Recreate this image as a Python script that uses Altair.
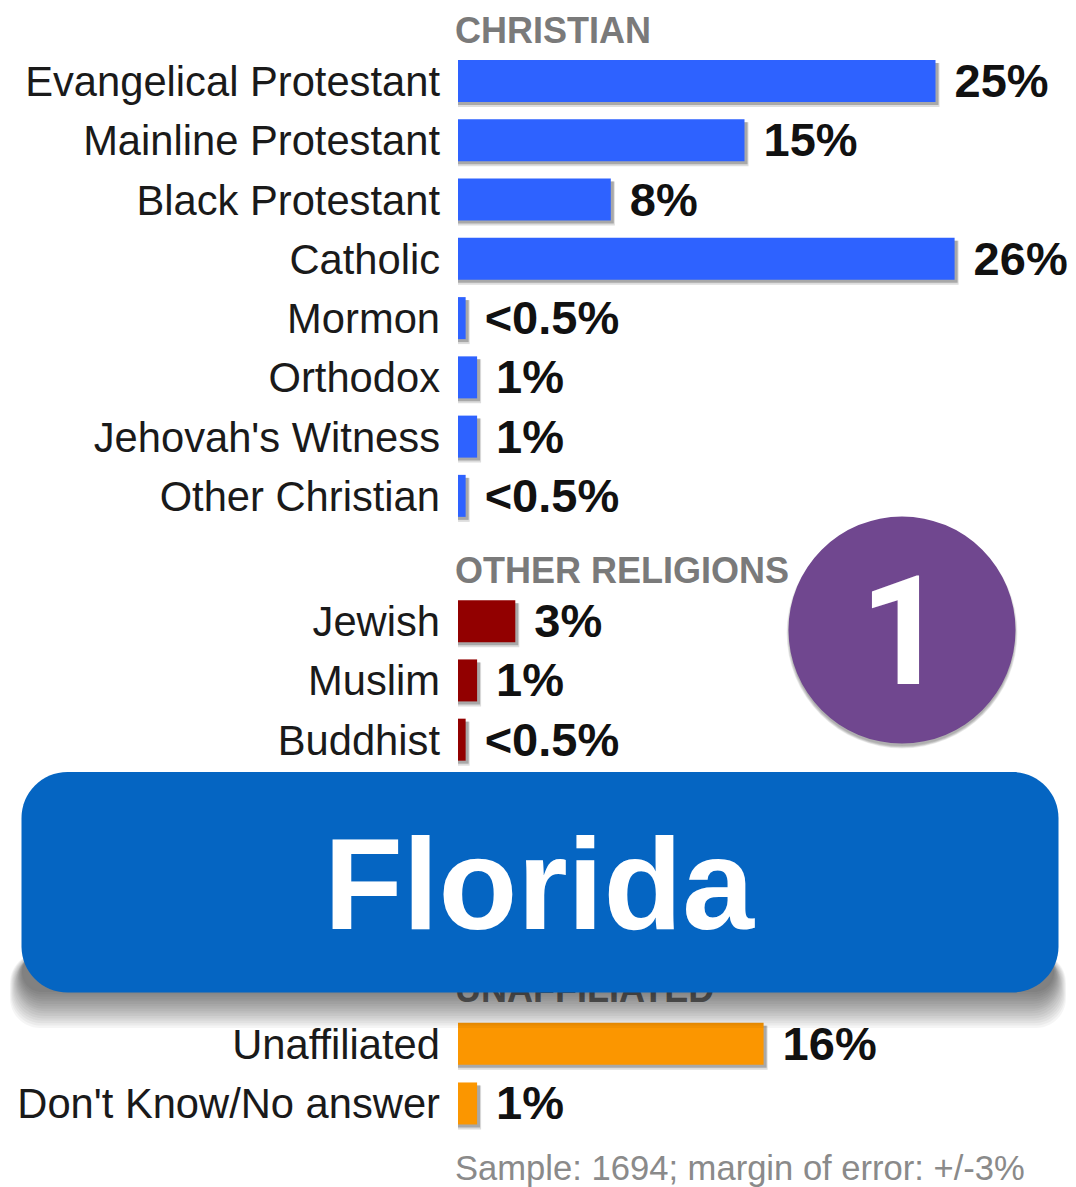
import altair as alt
import pandas as pd

categories = ["Evangelical Protestant", "Mainline Protestant", "Black Protestant", "Catholic",
              "Mormon", "Orthodox", "Jehovah's Witness", "Other Christian",
              "Jewish", "Muslim", "Buddhist",
              "Unaffiliated", "Don't Know/No answer"]
values = [25, 15, 8, 26, 0.4, 1, 1, 0.4, 3, 1, 0.4, 16, 1]
labels = ["25%", "15%", "8%", "26%", "<0.5%", "1%", "1%", "<0.5%", "3%", "1%", "<0.5%", "16%", "1%"]
groups = ["Christian"] * 8 + ["Other"] * 3 + ["None"] * 2
rows = [-0.015, 0.985, 1.985, 2.985, 3.985, 4.985, 5.985, 6.985, 9.1, 10.1, 11.1, 16.23, 17.24]

headers = ["CHRISTIAN", "OTHER RELIGIONS", "UNAFFILIATED"]
header_rows = [-0.875, 8.24, 15.31]
footnote = ["Sample: 1694; margin of error: +/-3%"]
footnote_rows = [18.31]

df = pd.DataFrame({"cat": categories, "val": values, "label": labels, "group": groups, "row": rows})
hdf = pd.DataFrame({"text": headers, "row": header_rows})
fdf = pd.DataFrame({"text": footnote, "row": footnote_rows})

W, H = 1060, 1171
FONT = "Liberation Sans"
xs = alt.Scale(domain=[-450 / 19.1, (W - 450) / 19.1], nice=False, zero=False, padding=0)
ys = alt.Scale(domain=[-74 / 59.25, (H - 74) / 59.25], reverse=True, nice=False, zero=False, padding=0)
X = alt.X("val:Q", scale=xs, axis=None)
Y = alt.Y("row:Q", scale=ys, axis=None)
color = alt.Color("group:N", legend=None,
                  scale=alt.Scale(domain=["Christian", "Other", "None"],
                                  range=["#2E62FF", "#920000", "#FB9600"]))

base = alt.Chart(df)
zero = alt.datum(0)

shadow2 = base.mark_bar(orient="horizontal", height=44, color="#dddddd", xOffset=4, yOffset=4).encode(x=X, x2=zero, y=Y)
shadow1 = base.mark_bar(orient="horizontal", height=42, color="#a8a8a8", xOffset=3, yOffset=3).encode(x=X, x2=zero, y=Y)
bars = base.mark_bar(orient="horizontal", height=42).encode(x=X, x2=zero, y=Y, color=color)

cats = base.mark_text(align="right", baseline="middle", dx=-18, dy=2, font=FONT, fontSize=41.7, color="#1a1a1a").encode(
    x=alt.X("z:Q", scale=xs, axis=None), y=Y, text="cat:N").transform_calculate(z="0")
vals = base.mark_text(align="left", baseline="middle", dx=19, dy=2, font=FONT, fontSize=47, fontWeight="bold", color="#111111").encode(
    x=X, y=Y, text="label:N")

hx = alt.X("z:Q", scale=xs, axis=None)
hdr = alt.Chart(hdf).transform_calculate(z="0").mark_text(
    align="left", baseline="middle", dx=-3, dy=2, font=FONT, fontSize=36, fontWeight="bold", color="#7a7a7a").encode(
    x=hx, y=Y, text="text:N")
foot = alt.Chart(fdf).transform_calculate(z="0").mark_text(
    align="left", baseline="middle", dx=-3, dy=3, font=FONT, fontSize=34.6, color="#8a8a8a").encode(
    x=hx, y=Y, text="text:N")

# Banner shadow, banner and badge (annotations placed in page pixels)
banner_shadow = []
for k in range(16):
    banner_shadow.append(
        alt.Chart(df.head(1)).mark_rect(cornerRadius=30, color="#000000", opacity=0.04).encode(
            x=alt.value(14 - k * 0.8), x2=alt.value(1046 + k * 0.8),
            y=alt.value(945), y2=alt.value(984 + k * 2.4))
    )
banner = alt.Chart(df.head(1)).mark_rect(cornerRadius=46, color="#0565C2").encode(
    x=alt.value(13.5), x2=alt.value(1050.5), y=alt.value(764), y2=alt.value(984.5))
banner_text = alt.Chart(df.head(1)).mark_text(
    align="center", baseline="middle", font=FONT, fontSize=129, fontWeight="bold", color="#ffffff", text="Florida").encode(
    x=alt.value(531), y=alt.value(882))

circle_shadow = []
for k in range(5):
    circle_shadow.append(
        alt.Chart(df.head(1)).mark_point(filled=True, shape="circle", size=(226 + k * 1.2) ** 2,
                                         color="#000000", opacity=0.07).encode(
            x=alt.value(894), y=alt.value(625))
    )
circle = alt.Chart(df.head(1)).mark_point(filled=True, shape="circle", size=227 ** 2, color="#70478F", opacity=1).encode(
    x=alt.value(894), y=alt.value(622))
circle_text = alt.Chart(df.head(1)).mark_text(
    align="center", baseline="middle", font="Roboto", fontSize=152, fontWeight="bold", color="#ffffff", text="1").encode(
    x=alt.value(895), y=alt.value(630))

chart = alt.layer(
    shadow2, shadow1, bars, cats, vals, hdr, foot,
    *circle_shadow, circle, circle_text,
    *banner_shadow, banner, banner_text,
).resolve_scale(x="shared", y="shared").properties(width=W, height=H, padding=0, background="#ffffff").configure_view(stroke=None)

chart.save("out.html", embed_options={"renderer": "svg", "actions": False})
